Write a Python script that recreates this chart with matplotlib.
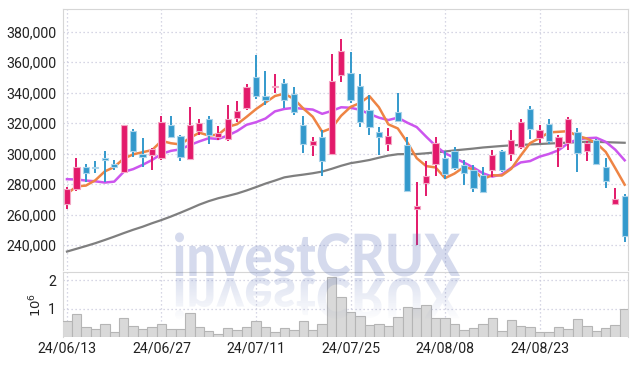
import matplotlib
matplotlib.use('Agg')
import matplotlib.pyplot as plt
import numpy as np
from matplotlib.textpath import TextPath
from matplotlib.patches import PathPatch
from matplotlib.font_manager import FontProperties
from matplotlib.transforms import Affine2D

# ---------------- data ----------------
dates = ['24/06/13', '24/06/14', '24/06/17', '24/06/18', '24/06/19', '24/06/20', '24/06/21',
         '24/06/24', '24/06/25', '24/06/26', '24/06/27', '24/06/28', '24/07/01', '24/07/02',
         '24/07/03', '24/07/04', '24/07/05', '24/07/08', '24/07/09', '24/07/10', '24/07/11',
         '24/07/12', '24/07/15', '24/07/16', '24/07/17', '24/07/18', '24/07/19', '24/07/22',
         '24/07/23', '24/07/24', '24/07/25', '24/07/26', '24/07/29', '24/07/30', '24/07/31',
         '24/08/01', '24/08/02', '24/08/05', '24/08/06', '24/08/07', '24/08/08', '24/08/09',
         '24/08/12', '24/08/13', '24/08/14', '24/08/16', '24/08/19', '24/08/20', '24/08/21',
         '24/08/22', '24/08/23', '24/08/26', '24/08/27', '24/08/28', '24/08/29', '24/08/30',
         '24/09/02', '24/09/03', '24/09/04', '24/09/05']

opens = [267000, 277000, 291000, 291500, 297000, 293000, 288000, 315000, 299500, 299000,
         297000, 319000, 311500, 296500, 315000, 323000, 311000, 309500, 323500, 330000,
         350000, 338000, 343500, 346500, 339000, 319000, 305500, 311000, 300000, 351500,
         353000, 344500, 328500, 314000, 306000, 327000, 305500, 263500, 281000, 293000,
         297000, 302000, 292500, 289000, 286000, 289000, 302000, 299500, 304000, 329500,
         310000, 319500, 304500, 307000, 314000, 302000, 309000, 291000, 267000, 272000]
highs = [278000, 297000, 293000, 295000, 302000, 296000, 319000, 316000, 310000, 303500,
         324500, 324500, 312500, 330500, 322500, 325000, 318000, 332000, 334500, 346000,
         365000, 354000, 352000, 349000, 343500, 324500, 311000, 315500, 365500, 375500,
         367000, 352000, 338500, 317500, 316500, 339500, 311000, 281500, 295000, 311000,
         301500, 304500, 296000, 292500, 291000, 302500, 302500, 315500, 322500, 331500,
         319000, 323000, 312000, 324000, 316500, 308000, 309500, 297000, 277500, 273500]
lows = [263500, 275500, 281500, 287000, 281500, 289000, 287000, 298000, 291500, 289000,
        296000, 310000, 295000, 296000, 312000, 306500, 309000, 308500, 321000, 328500,
        336000, 332000, 339500, 330000, 325500, 300500, 298500, 285000, 299000, 347000,
        333000, 317500, 312500, 299000, 302000, 321000, 275000, 240000, 272000, 285000,
        283000, 289000, 279500, 275000, 274500, 284500, 288000, 295000, 303000, 309500,
        307000, 306500, 291000, 302500, 288000, 295000, 292500, 277500, 266000, 242000]
closes = [276500, 291000, 287500, 290500, 296000, 291000, 318500, 301500, 297500, 303000,
          321000, 311000, 297500, 319000, 320000, 312000, 313500, 323000, 328000, 344000,
          337500, 335000, 344500, 335500, 327000, 306000, 308000, 295000, 347500, 367500,
          335000, 321000, 317500, 311000, 311500, 321500, 275500, 265500, 285000, 307000,
          286500, 290500, 287000, 277500, 275000, 299000, 289500, 309000, 321000, 316000,
          315500, 308000, 311000, 323000, 300500, 307000, 293000, 282000, 270000, 246000]
volume_m = [0.58, 0.80, 0.36, 0.29, 0.48, 0.19, 0.68, 0.40, 0.29, 0.36,
            0.48, 0.29, 0.29, 0.86, 0.36, 0.22, 0.10, 0.32, 0.27, 0.36,
            0.58, 0.36, 0.19, 0.32, 0.27, 0.58, 0.27, 0.46, 2.10, 1.43,
            0.89, 0.76, 0.43, 0.48, 0.40, 0.71, 1.07, 1.04, 1.15, 0.68,
            0.68, 0.48, 0.27, 0.32, 0.46, 0.68, 0.22, 0.62, 0.40, 0.36,
            0.17, 0.20, 0.36, 0.30, 0.64, 0.40, 0.22, 0.32, 0.43, 0.98]
ma5_k = [273.5, 278.5, 279.0, 282.5, 288.3, 291.2, 296.7, 299.5, 300.9, 302.3,
         308.3, 306.8, 306.0, 310.3, 313.7, 311.9, 312.4, 317.5, 319.3, 324.1,
         329.2, 333.5, 337.8, 339.3, 335.9, 329.6, 324.2, 314.3, 316.7, 324.8,
         330.6, 333.2, 337.7, 330.4, 319.2, 316.5, 307.4, 297.0, 291.8, 290.9,
         283.9, 286.9, 291.2, 289.7, 283.3, 285.8, 285.6, 290.0, 298.7, 306.9,
         310.2, 313.9, 314.3, 314.7, 311.6, 309.9, 306.9, 301.1, 290.5, 279.6]
ma10_k = [283.2, 283.0, 282.3, 281.8, 281.0, 281.6, 288.0, 289.8, 292.6, 295.8,
          299.8, 301.8, 302.8, 305.6, 308.0, 310.1, 309.6, 311.8, 314.8, 318.9,
          320.6, 323.0, 327.7, 329.3, 330.0, 329.4, 328.9, 326.1, 328.0, 330.4,
          330.1, 328.7, 326.0, 323.6, 322.0, 323.6, 320.3, 317.4, 311.1, 305.1,
          300.2, 297.2, 294.1, 290.8, 287.1, 284.9, 286.3, 290.6, 294.2, 295.1,
          298.0, 299.8, 302.2, 306.7, 309.3, 310.1, 310.4, 307.7, 302.6, 295.6]
ma_long_k = [235.7, 237.5, 239.3, 241.2, 243.3, 245.5, 247.8, 250.0, 252.0, 254.3,
             256.4, 258.7, 261.2, 263.8, 266.5, 268.8, 270.7, 272.2, 273.8, 275.8,
             278.0, 280.3, 282.3, 284.4, 285.4, 286.2, 287.1, 288.2, 290.0, 292.0,
             293.7, 294.7, 295.8, 297.3, 298.7, 299.6, 299.7, 299.7, 300.2, 300.8,
             301.4, 302.1, 302.7, 303.3, 304.0, 304.5, 305.0, 305.4, 305.7, 306.0,
             306.3, 306.6, 306.9, 307.2, 307.5, 307.8, 307.7, 307.5, 307.3, 307.1]
tick_dates = ['24/06/13', '24/06/27', '24/07/11', '24/07/25', '24/08/08', '24/08/23']
price_ticks = [240000, 260000, 280000, 300000, 320000, 340000, 360000, 380000]

# ---------------- style ----------------
UP = '#e3196a'
UP_EDGE = '#f4a6c4'
DOWN = '#3399cc'
DOWN_EDGE = '#a9d3ea'
GRID = '#c9c9dc'
SPINE = '#d6d6d6'
TXT = '#222222'
FONT = ['Roboto', 'DejaVu Sans']
plt.rcParams['font.family'] = FONT
LBL = 10.2

W, H = 637, 366
fig = plt.figure(figsize=(W / 100, H / 100), dpi=100)
fig.patch.set_facecolor('white')


def px_axes(x0, y0, x1, y1):
    return fig.add_axes([x0 / W, 1 - y1 / H, (x1 - x0) / W, (y1 - y0) / H])


ax = px_axes(63, 9, 627.5, 270)
axv = px_axes(63, 272, 627.5, 337.3)

x = np.arange(len(dates))
o = np.array(opens, float)
h = np.array(highs, float)
l = np.array(lows, float)
c = np.array(closes, float)
up = c >= o
cols = [UP if u else DOWN for u in up]
edges = [UP_EDGE if u else DOWN_EDGE for u in up]
tick_pos = [dates.index(d) for d in tick_dates]

# moving averages
ax.plot(x, np.array(ma_long_k) * 1000, color='#7f7f7f', lw=1.6, zorder=2)
ax.plot(x, np.array(ma10_k) * 1000, color='#cc55ee', lw=1.8, zorder=3)
ax.plot(x, np.array(ma5_k) * 1000, color='#ee8444', lw=1.8, zorder=4)

# candles
ax.vlines(x, l, h, colors=cols, lw=1.4, zorder=5)
body_bot = np.minimum(o, c)
body_h = np.maximum(np.abs(c - o), 700)
ax.bar(x, body_h, bottom=body_bot, width=0.66, color=cols, edgecolor=edges,
       linewidth=0.8, zorder=6)

ax.set_xlim(-0.42, 59.3)
ax.set_ylim(223600, 394900)
ax.set_yticks(price_ticks)
ax.set_yticklabels([f'{v:,}' for v in price_ticks])
ax.set_xticks(tick_pos)
ax.tick_params(axis='x', length=0, labelbottom=False)
ax.tick_params(axis='y', length=0, pad=5, labelsize=LBL, labelcolor=TXT)
ax.grid(True, linestyle=(0, (1, 2.2)), color=GRID, lw=0.9, zorder=0)
ax.set_axisbelow(True)
for s in ['left', 'top', 'right']:
    ax.spines[s].set_color(SPINE)
ax.spines['bottom'].set_visible(False)

# volume
vol = np.array(volume_m) * 1e6
axv.bar(x, vol, width=1.0, color='#d9d9d9', edgecolor='#b5b5b5', linewidth=0.8, zorder=3)
axv.set_xlim(-0.42, 59.3)
axv.set_ylim(0, 2.29e6)
axv.set_yticks([1e6, 2e6])
axv.set_yticklabels(['1', '2'])
axv.set_xticks(tick_pos)
axv.set_xticklabels(tick_dates)
axv.tick_params(axis='x', length=0, pad=3, labelsize=LBL, labelcolor=TXT)
axv.tick_params(axis='y', length=0, pad=5, labelsize=LBL, labelcolor=TXT)
axv.set_ylabel(r'$10^6$', fontsize=9.5, color=TXT, labelpad=3)
axv.grid(True, linestyle=(0, (1, 2.2)), color=GRID, lw=0.9, zorder=0)
axv.set_axisbelow(True)
for s in ['left', 'top', 'right']:
    axv.spines[s].set_color(SPINE)
axv.spines['bottom'].set_visible(False)

# watermark with reflection
ov = fig.add_axes([0, 0, 1, 1], zorder=10)
ov.set_xlim(0, W)
ov.set_ylim(H, 0)
ov.axis('off')
ov.patch.set_alpha(0)
fp = FontProperties(family=['Lato', 'DejaVu Sans'], weight='black')
tp = TextPath((0, 0), 'investCRUX', size=1, prop=fp)
ext = tp.get_extents()
x0, x1 = 175, 460
base = 276
sx = (x1 - x0) / ext.width
sy = 42 / 0.72
wm_color = '#5068b4'
tr_main = Affine2D().translate(-ext.x0, 0).scale(sx, -sy).translate(x0, base)
ov.add_patch(PathPatch(tr_main.transform_path(tp), facecolor=wm_color, edgecolor='none',
                       alpha=0.24, zorder=1))
tr_ref = Affine2D().translate(-ext.x0, 0).scale(sx, sy * 0.95).translate(x0, base + 2)
ref_path = tr_ref.transform_path(tp)
ref_patch = PathPatch(ref_path, facecolor='none', edgecolor='none', transform=ov.transData)
ov.add_patch(ref_patch)
grad = np.zeros((64, 2, 4))
rgb = matplotlib.colors.to_rgb(wm_color)
grad[..., 0], grad[..., 1], grad[..., 2] = rgb
grad[..., 3] = np.linspace(0.2, 0.0, 64)[:, None]
im = ov.imshow(grad, extent=(x0 - 5, x1 + 5, base + 46, base + 1), aspect='auto',
               interpolation='bilinear', zorder=1)
im.set_clip_path(ref_patch)
ov.set_xlim(0, W)
ov.set_ylim(H, 0)

fig.savefig('out.png', dpi=100, facecolor='white')
